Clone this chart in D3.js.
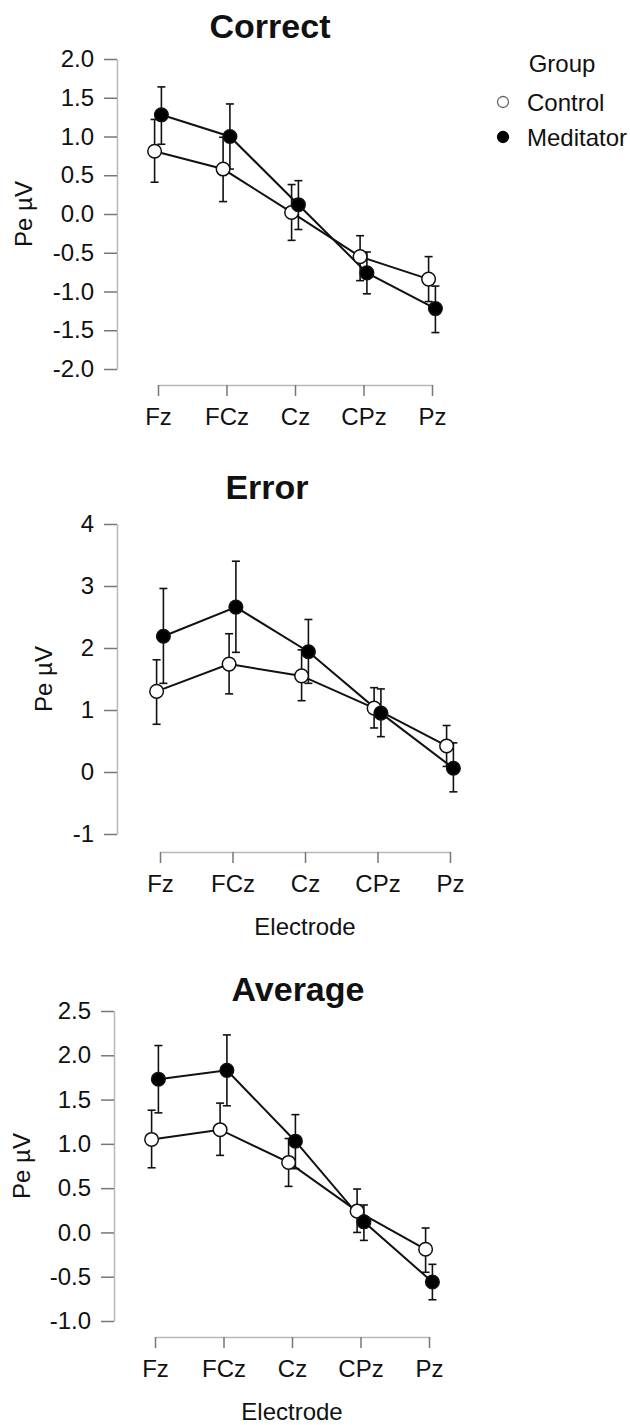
<!DOCTYPE html>
<html>
<head>
<meta charset="utf-8">
<script src="https://cdn.jsdelivr.net/npm/d3@7/dist/d3.min.js"></script>
<style>
  html, body { margin: 0; padding: 0; background: #fff; }
  svg { display: block; }
  text { font-family: "Liberation Sans", Arial, sans-serif; fill: #111; }
</style>
</head>
<body>
<svg id="chart" width="630" height="1425"></svg>
<script>
// ---------- DATA ----------
const electrodes = ["Fz", "FCz", "Cz", "CPz", "Pz"];
const groups = ["Control", "Meditator"];

// Correct
const correctControl   = [0.81, 0.58, 0.02, -0.55, -0.84];
const correctControlLo = [0.41, 0.16, -0.34, -0.86, -1.13];
const correctControlHi = [1.22, 0.99, 0.38, -0.28, -0.55];
const correctMed       = [1.28, 1.00, 0.12, -0.76, -1.22];
const correctMedLo     = [0.90, 0.58, -0.20, -1.03, -1.53];
const correctMedHi     = [1.64, 1.42, 0.43, -0.49, -0.93];
const correctTicks     = [-2.0, -1.5, -1.0, -0.5, 0.0, 0.5, 1.0, 1.5, 2.0];

// Error
const errorControl   = [1.30, 1.74, 1.55, 1.03, 0.42];
const errorControlLo = [0.77, 1.26, 1.15, 0.71, 0.09];
const errorControlHi = [1.81, 2.23, 1.97, 1.36, 0.75];
const errorMed       = [2.19, 2.66, 1.94, 0.95, 0.06];
const errorMedLo     = [1.43, 1.93, 1.43, 0.57, -0.32];
const errorMedHi     = [2.96, 3.40, 2.46, 1.34, 0.47];
const errorTicks     = [-1, 0, 1, 2, 3, 4];

// Average
const avgControl   = [1.05, 1.16, 0.79, 0.24, -0.19];
const avgControlLo = [0.73, 0.87, 0.52, 0.00, -0.45];
const avgControlHi = [1.38, 1.46, 1.06, 0.49, 0.05];
const avgMed       = [1.73, 1.83, 1.03, 0.12, -0.56];
const avgMedLo     = [1.35, 1.43, 0.72, -0.09, -0.76];
const avgMedHi     = [2.11, 2.23, 1.33, 0.31, -0.36];
const avgTicks     = [-1.0, -0.5, 0.0, 0.5, 1.0, 1.5, 2.0, 2.5];

// ---------- LAYOUT ----------
const FONT = 24;
const hyph = f => v => f(v).replace("\u2212", "-");
const panels = [
  { title: "Correct", titleX: 270, titleY: 38,
    ctrl: [correctControl, correctControlLo, correctControlHi],
    med: [correctMed, correctMedLo, correctMedHi],
    ticks: correctTicks, fmt: hyph(d3.format(".1f")),
    axisX: 117, yTop: 59, yBot: 369, xL: 158, xR: 432, xAxisY: 385,
    ylabX: 32, xlabel: null },
  { title: "Error", titleX: 267, titleY: 499,
    ctrl: [errorControl, errorControlLo, errorControlHi],
    med: [errorMed, errorMedLo, errorMedHi],
    ticks: errorTicks, fmt: hyph(d3.format("d")),
    axisX: 117, yTop: 524, yBot: 834, xL: 160, xR: 450, xAxisY: 852,
    ylabX: 52, xlabel: { x: 305, y: 935 } },
  { title: "Average", titleX: 298, titleY: 1001,
    ctrl: [avgControl, avgControlLo, avgControlHi],
    med: [avgMed, avgMedLo, avgMedHi],
    ticks: avgTicks, fmt: hyph(d3.format(".1f")),
    axisX: 114, yTop: 1011, yBot: 1321, xL: 155, xR: 429, xAxisY: 1337,
    ylabX: 30, xlabel: { x: 292, y: 1420 } }
];

const svg = d3.select("#chart");
const dodge = 3.4;

panels.forEach(p => {
  const dom = d3.extent(p.ticks);
  const y = d3.scaleLinear().domain(dom).range([p.yBot, p.yTop]);
  const x = d3.scalePoint().domain(electrodes).range([p.xL, p.xR]);
  const g = svg.append("g");

  // title
  g.append("text").attr("x", p.titleX).attr("y", p.titleY)
    .attr("text-anchor", "middle").attr("font-size", 34).attr("font-weight", "bold")
    .text(p.title);

  // y axis
  const ya = g.append("g").attr("transform", `translate(${p.axisX},0)`)
    .call(d3.axisLeft(y).tickValues(p.ticks).tickFormat(p.fmt).tickSize(13).tickSizeOuter(0).tickPadding(10));
  ya.select(".domain").attr("stroke", "#b8b8b8").attr("stroke-width", 1.5);
  ya.selectAll(".tick line").attr("stroke", "#777").attr("stroke-width", 1.5);
  ya.selectAll(".tick text").attr("font-size", FONT).attr("fill", "#111")
    .attr("font-family", '"Liberation Sans", Arial, sans-serif');

  // x axis
  const xa = g.append("g").attr("transform", `translate(0,${p.xAxisY})`)
    .call(d3.axisBottom(x).tickSize(11).tickSizeOuter(0).tickPadding(12));
  xa.select(".domain").attr("stroke", "#b8b8b8").attr("stroke-width", 1.5);
  xa.selectAll(".tick line").attr("stroke", "#777").attr("stroke-width", 1.5);
  xa.selectAll(".tick text").attr("font-size", FONT).attr("fill", "#111")
    .attr("font-family", '"Liberation Sans", Arial, sans-serif');

  // y label
  g.append("text")
    .attr("transform", `translate(${p.ylabX},${(p.yTop + p.yBot) / 2}) rotate(-90)`)
    .attr("text-anchor", "middle").attr("font-size", FONT).text("Pe \u00B5V");

  if (p.xlabel) {
    g.append("text").attr("x", p.xlabel.x).attr("y", p.xlabel.y)
      .attr("text-anchor", "middle").attr("font-size", FONT).text("Electrode");
  }

  const series = [
    { key: "Control", vals: p.ctrl, off: -dodge, fill: "#fff" },
    { key: "Meditator", vals: p.med, off: dodge, fill: "#000" }
  ];
  const rows = s => electrodes.map((e, i) => ({ e, m: s.vals[0][i], lo: s.vals[1][i], hi: s.vals[2][i] }));

  // lines
  series.forEach(s => {
    const line = d3.line().x(d => x(d.e) + s.off).y(d => y(d.m));
    g.append("path").datum(rows(s)).attr("d", line)
      .attr("fill", "none").attr("stroke", "#111").attr("stroke-width", 2);
  });
  // error bars
  series.forEach(s => {
    const eb = g.append("g").selectAll("g").data(rows(s)).join("g")
      .attr("stroke", "#111").attr("stroke-width", 1.6);
    eb.append("line").attr("x1", d => x(d.e) + s.off).attr("x2", d => x(d.e) + s.off)
      .attr("y1", d => y(d.lo)).attr("y2", d => y(d.hi));
    eb.append("line").attr("x1", d => x(d.e) + s.off - 4).attr("x2", d => x(d.e) + s.off + 4)
      .attr("y1", d => y(d.lo)).attr("y2", d => y(d.lo));
    eb.append("line").attr("x1", d => x(d.e) + s.off - 4).attr("x2", d => x(d.e) + s.off + 4)
      .attr("y1", d => y(d.hi)).attr("y2", d => y(d.hi));
  });
  // points
  series.forEach(s => {
    g.append("g").selectAll("circle").data(rows(s)).join("circle")
      .attr("cx", d => x(d.e) + s.off).attr("cy", d => y(d.m)).attr("r", 6.8)
      .attr("fill", s.fill).attr("stroke", "#111").attr("stroke-width", 1.5);
  });
});

// ---------- LEGEND ----------
const lg = svg.append("g");
lg.append("text").attr("x", 562).attr("y", 72).attr("text-anchor", "middle")
  .attr("font-size", FONT).text("Group");
const legendRows = [
  { key: groups[0], fill: "#fff", stroke: "#666", y: 102 },
  { key: groups[1], fill: "#000", stroke: "#000", y: 137 }
];
legendRows.forEach(r => {
  lg.append("circle").attr("cx", 503).attr("cy", r.y).attr("r", 5.5)
    .attr("fill", r.fill).attr("stroke", r.stroke).attr("stroke-width", 1.3);
  lg.append("text").attr("x", 527).attr("y", r.y + 9).attr("font-size", FONT).text(r.key);
});
</script>
</body>
</html>
